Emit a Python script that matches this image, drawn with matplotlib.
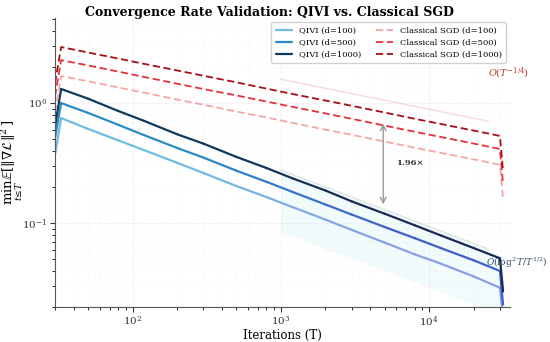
import matplotlib
matplotlib.use("Agg")
import matplotlib.pyplot as plt
import matplotlib.colors as mcolors
import numpy as np

plt.rcParams['font.family'] = 'serif'
plt.rcParams['font.serif'] = ['DejaVu Serif']
plt.rcParams['mathtext.fontset'] = 'dejavuserif'

T = [30, 33, 50, 80, 120, 200, 300, 500, 800, 1200, 2000, 3000, 5000, 8000, 12000, 20000, 30000, 31500]

qivi_100 = [0.37, 0.75, 0.61, 0.49, 0.405, 0.318, 0.262, 0.204, 0.165, 0.136, 0.107, 0.088, 0.069, 0.055, 0.046, 0.036, 0.029, 0.016]
qivi_500 = [0.51, 1.0, 0.83, 0.66, 0.54, 0.423, 0.352, 0.274, 0.221, 0.182, 0.143, 0.118, 0.093, 0.075, 0.062, 0.049, 0.040, 0.021]
qivi_1000 = [0.64, 1.31, 1.09, 0.86, 0.71, 0.55, 0.46, 0.357, 0.288, 0.236, 0.187, 0.152, 0.120, 0.096, 0.079, 0.062, 0.051, 0.027]

sgd_100 = [0.84, 1.68, 1.52, 1.35, 1.22, 1.07, 0.97, 0.85, 0.76, 0.684, 0.60, 0.545, 0.479, 0.425, 0.385, 0.34, 0.306, 0.16]
sgd_500 = [1.14, 2.28, 2.06, 1.83, 1.65, 1.45, 1.31, 1.16, 1.03, 0.93, 0.82, 0.74, 0.65, 0.577, 0.522, 0.46, 0.415, 0.21]
sgd_1000 = [1.47, 2.93, 2.64, 2.35, 2.12, 1.87, 1.69, 1.49, 1.32, 1.19, 1.05, 0.95, 0.835, 0.74, 0.67, 0.59, 0.533, 0.27]

# reference rate lines
ref_T = [1000, 25000]
ref_sgd = [1.58, 0.706]
ref_qivi = [0.277, 0.061]
band_T = [1000, 25000, 31500]
band_hi = [0.277, 0.061, 0.052]
band_lo = [0.085, 0.019, 0.015]

qivi_labels = ['QIVI (d=100)', 'QIVI (d=500)', 'QIVI (d=1000)']
sgd_labels = ['Classical SGD (d=100)', 'Classical SGD (d=500)', 'Classical SGD (d=1000)']

qivi_c0 = ['#72bbe2', '#2a8cc4', '#0d3b5e']
qivi_c1 = ['#8c9fe3', '#3f5fc8', '#1b2756']
sgd_colors = ['#f6a5a5', '#e4333b', '#a50f15']

fig = plt.figure(figsize=(5.5, 3.42), dpi=100)
ax = fig.add_axes([0.1, 0.102, 0.827, 0.845])

ax.fill_between(band_T, band_lo, band_hi, color='#d8f4f8', alpha=0.35, lw=0)
ax.plot(ref_T, ref_qivi, color='#bbbbbb', lw=1, alpha=0.4)
ax.plot(ref_T, ref_sgd, color='#f4a0a0', lw=1, alpha=0.4)

logT = np.log10(T)
for vals, c0, c1, lab in zip([qivi_100, qivi_500, qivi_1000], qivi_c0, qivi_c1, qivi_labels):
    r0 = np.array(mcolors.to_rgb(c0))
    r1 = np.array(mcolors.to_rgb(c1))
    for i in range(len(T) - 1):
        f = np.clip((0.5 * (logT[i] + logT[i + 1]) - 2.4) / 1.4, 0, 1)
        ax.plot(T[i:i + 2], vals[i:i + 2], color=r0 + (r1 - r0) * f, lw=1.6,
                solid_capstyle='round', label=lab if i == 0 else None)

for vals, c, lab in zip([sgd_100, sgd_500, sgd_1000], sgd_colors, sgd_labels):
    ax.plot(T, vals, color=c, lw=1.3, ls=(0, (4, 2)), label=lab)

ax.set_xscale('log')
ax.set_yscale('log')
ax.set_xlim(30, 35000)
ax.set_ylim(0.02, 5.1)

ax.annotate('', xy=(4900, 0.136), xytext=(4900, 0.71),
            arrowprops=dict(arrowstyle='<->', color='#999999', lw=1))
ax.text(6000, 0.316, '1.96×', fontsize=6, fontweight='bold', color='#333333', va='center')
ax.text(34500, 1.78, r'$O(T^{-1/4})$', fontsize=7, color='#c0392b', ha='center', va='center')
ax.text(24000, 0.047, r'$O(\log^2 T/T^{1/2})$', fontsize=6.5, color='#34495e', ha='left', va='center')

ax.set_xlabel('Iterations (T)', fontsize=8.5, labelpad=0)
ax.set_ylabel(r'$\min_{t\leq T}\mathbb{E}[\|\nabla\mathcal{L}\|^2]$', fontsize=9.5)
ax.yaxis.set_label_coords(-0.066, 0.5)
fig.text(0.49, 0.963, 'Convergence Rate Validation: QIVI vs. Classical SGD',
         fontsize=9, fontweight='bold', ha='center', va='center')

ax.grid(True, which='major', ls=':', color='#cccccc', lw=0.6, alpha=0.6)
ax.grid(True, which='minor', ls=':', color='#dddddd', lw=0.5, alpha=0.4)
for s in ['top', 'right']:
    ax.spines[s].set_visible(False)
for s in ['left', 'bottom']:
    ax.spines[s].set_color('#555555')
ax.tick_params(labelsize=7.5, colors='#333333', pad=2)

ax.legend(loc='upper right', ncol=2, fontsize=6, frameon=True, framealpha=0.9,
          edgecolor='#cccccc', handlelength=2.0, columnspacing=1.8, borderpad=0.5,
          labelspacing=0.5)

fig.savefig('out.png', dpi=100)
